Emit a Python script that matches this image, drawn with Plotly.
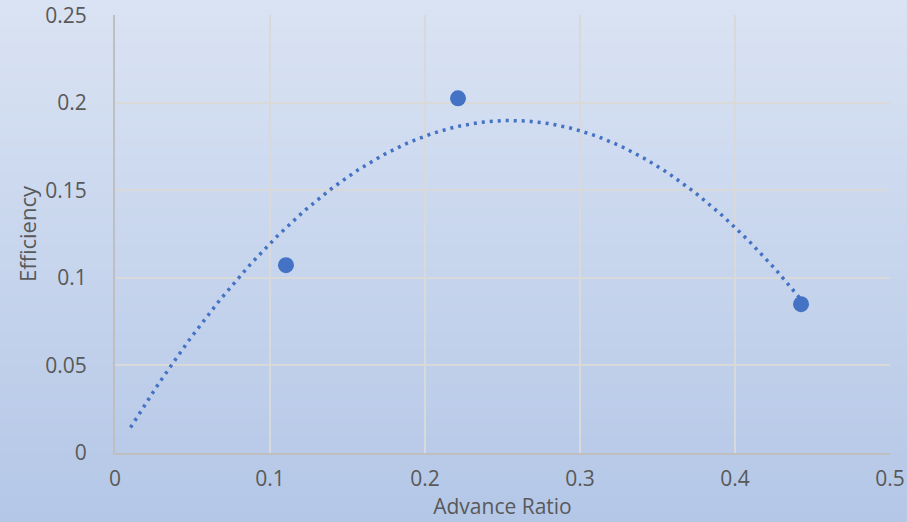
import numpy as np
import plotly.graph_objects as go

# Measured efficiency against advance ratio
advance_ratio = [0.1103, 0.2213, 0.4426]
efficiency = [0.1073, 0.2026, 0.0850]

x_ticks = [0, 0.1, 0.2, 0.3, 0.4, 0.5]
x_tick_labels = ["0", "0.1", "0.2", "0.3", "0.4", "0.5"]
y_ticks = [0, 0.05, 0.1, 0.15, 0.2, 0.25]
y_tick_labels = ["0", "0.05", "0.1", "0.15", "0.2", "0.25"]

# Second-order polynomial trendline through the origin, extended backward
trend_start = 0.01

xa = np.array(advance_ratio)
ya = np.array(efficiency)
A = np.column_stack([xa, xa ** 2])
coef, *_ = np.linalg.lstsq(A, ya, rcond=None)
tx = np.linspace(trend_start, xa.max(), 200)
ty = coef[0] * tx + coef[1] * tx ** 2

blue = "#4472C4"
font_family = "Open Sans, Segoe UI, sans-serif"

fig = go.Figure()
fig.add_trace(go.Scatter(
    x=tx, y=ty, mode="lines",
    line=dict(color=blue, width=3.5, dash="3px,5px"),
    hoverinfo="skip", showlegend=False,
))
fig.add_trace(go.Scatter(
    x=advance_ratio, y=efficiency, mode="markers",
    marker=dict(color=blue, size=16, line=dict(width=0)),
    showlegend=False,
))

# Vertical gradient background built from thin bands
top = np.array([218, 227, 243])
bottom = np.array([180, 199, 231])
n = 60
L, R, T, B = 115, 17, 15, 69
W, H = 907, 522
pw = W - L - R
ph = H - T - B
shapes = []
for i in range(n):
    f = (i + 0.5) / n
    c = top + (bottom - top) * f
    y_top_px = i * H / n - (2 if i == 0 else 0)
    y_bot_px = (i + 1) * H / n + (2 if i == n - 1 else 0.6)
    y0 = (H - B - y_bot_px) / ph
    y1 = (H - B - y_top_px) / ph
    shapes.append(dict(
        type="rect", xref="paper", yref="paper",
        x0=-(L + 5) / pw, x1=1 + (R + 5) / pw,
        y0=y0, y1=y1, layer="below", line=dict(width=0),
        fillcolor="rgb(%d,%d,%d)" % tuple(c.round().astype(int)),
    ))

fig.update_layout(
    width=W, height=H,
    margin=dict(l=L, r=R, t=T, b=B, autoexpand=False),
    paper_bgcolor="rgb(%d,%d,%d)" % tuple(bottom),
    plot_bgcolor="rgba(0,0,0,0)",
    shapes=shapes,
    font=dict(family=font_family, color="#595959", size=21),
    xaxis=dict(
        range=[0, 0.5], tickvals=x_ticks, ticktext=x_tick_labels,
        showgrid=True, gridcolor="#d9d9d9", gridwidth=1.5,
        showline=True, linecolor="#bfbfbf", linewidth=2,
        zeroline=False, ticks="", ticklabelstandoff=6,
        automargin=False,
        title=dict(text="Advance Ratio", standoff=2, font=dict(size=21)),
    ),
    yaxis=dict(
        range=[0, 0.2502], tickvals=y_ticks, ticktext=y_tick_labels,
        showgrid=True, gridcolor="#d9d9d9", gridwidth=1.5,
        showline=True, linecolor="#bfbfbf", linewidth=2,
        zeroline=False, ticks="", ticklabelstandoff=22,
        automargin=False,
        title=dict(text="Efficiency", standoff=3, font=dict(size=22)),
    ),
)

fig.write_html("out.html")
